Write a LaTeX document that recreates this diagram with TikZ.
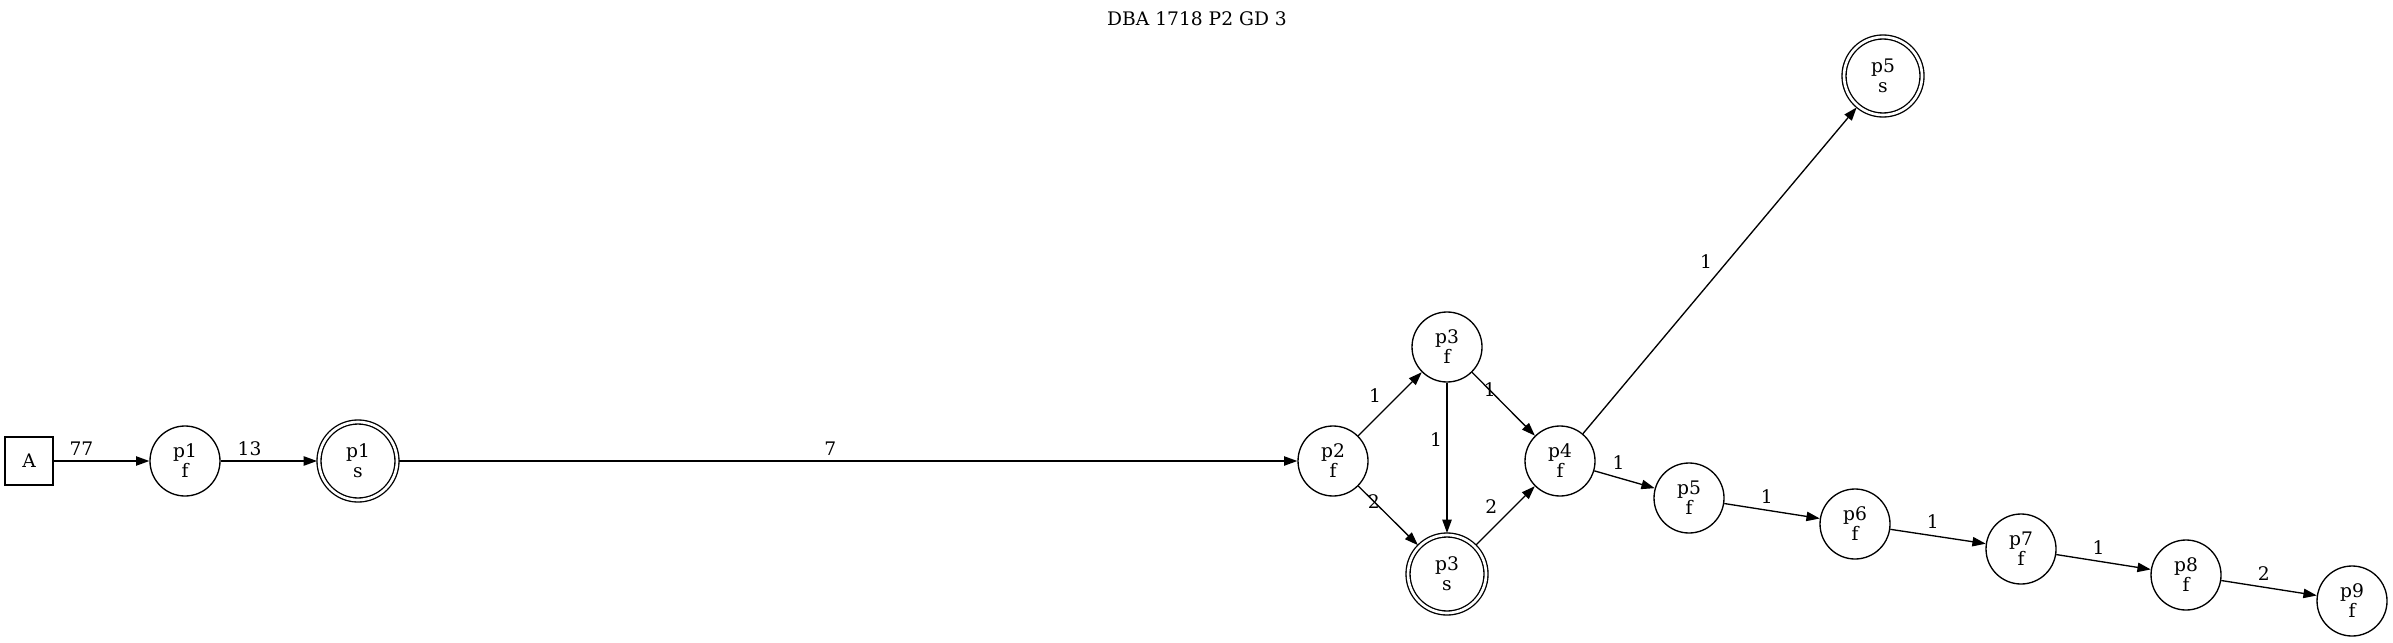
\documentclass[tikz,border=0pt]{standalone}
\usepackage{fontspec}
\setmainfont{DejaVu Serif}
\usetikzlibrary{arrows.meta,automata,positioning}
\tikzset{
  every state/.style={
    draw,
    inner sep=0pt,
    minimum size=52.5pt,
    align=center,
    line width=1pt
  },
  success state/.style={
    state,
    double,
    double distance=2pt,
    minimum size=58.5pt,
    outer sep=1.5pt
  },
  start box/.style={
    draw,
    rectangle,
    minimum size=36pt,
    line width=1pt
  },
  on line/.style={
    anchor=center
  }
}

\begin{document}
\begin{tikzpicture} [x=0.75pt, y=-0.75pt, ->, >={Triangle[length=10pt,width=7pt]},
  auto, line width=1pt, font=\fontsize{14}{15}\selectfont]
   \useasboundingbox (0,0) rectangle (2393,642);
   \node (title) at (1197,19) {DBA 1718 P2 GD 3};

   \node[start box] (a) at (29,461) {A};
   \node[state] (p1f) at (185,461) {p1\\f};
   \node[success state] (p1s) at (358,461) {p1\\s};
   \node[state] (p2f) at (1333,461) {p2\\f};
   \node[state] (p3f) at (1447,347) {p3\\f};
   \node[success state] (p3s) at (1447,574) {p3\\s};
   \node[state] (p4f) at (1560,461) {p4\\f};
   \node[success state] (p5s) at (1883,76) {p5\\s};
   \node[state] (p5f) at (1689,498) {p5\\f};
   \node[state] (p6f) at (1855,524) {p6\\f};
   \node[state] (p7f) at (2021,549) {p7\\f};
   \node[state] (p8f) at (2186,575) {p8\\f};
   \node[state] (p9f) at (2352,601) {p9\\f};

   \path[->] (a)   edge                          node[pos=.29] {77} (p1f)
             (p1f) edge                          node[pos=.3]  {13} (p1s)
             (p1s) edge                          node[pos=.48] {7}  (p2f)
             (p2f) edge                          node[pos=.44] {1}  (p3f)
                   edge                          node[on line, pos=.26] {2} (p3s)
             (p3f) edge                          node[swap, pos=.38] {1} (p3s)
                   edge                          node[on line, pos=.28] {1} (p4f)
             (p3s) edge                          node[pos=.45] {2}  (p4f)
             (p4f) edge                          node[pos=.22] {1}  (p5f)
                   edge                          node[pos=.49] {1}  (p5s)
             (p5f) edge                          node[pos=.33] {1}  (p6f)
             (p6f) edge                          node[pos=.33] {1}  (p7f)
             (p7f) edge                          node[pos=.33] {1}  (p8f)
             (p8f) edge                          node[pos=.33] {2}  (p9f);
\end{tikzpicture}
\end{document}
